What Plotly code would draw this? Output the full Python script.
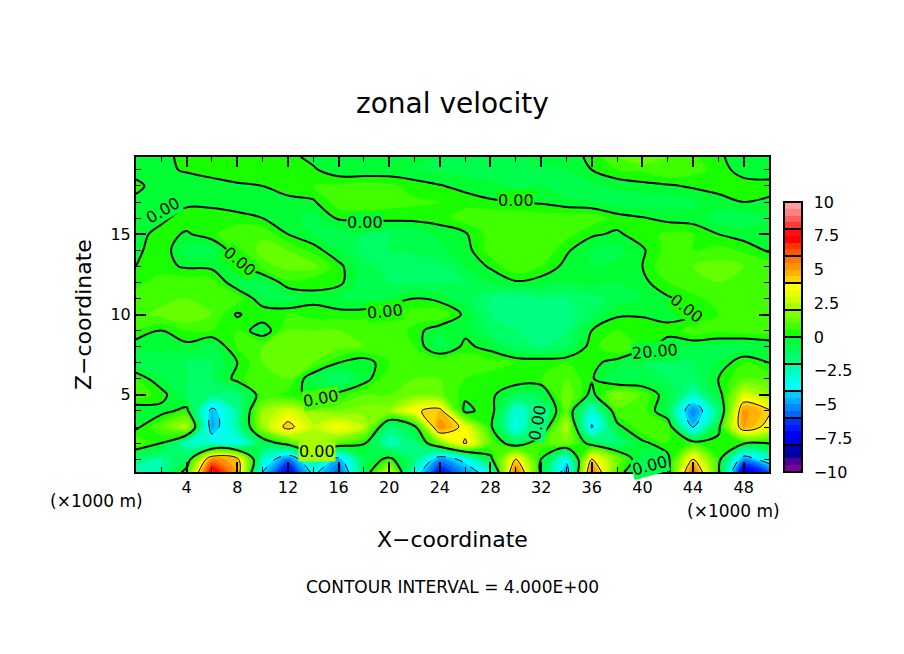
import plotly.graph_objects as go

# Coordinates (x in km, z in km)
x_km = [0, 2, 4, 6, 8, 10, 12, 14, 16, 18, 20, 22, 24, 26, 28, 30, 32, 34, 36, 38, 40, 42, 44, 46, 48, 50]
z_km = [0.2, 1, 2, 3, 4, 5, 6, 7, 8, 9, 10, 11, 12, 13, 14, 15, 16, 17, 18, 19, 19.8]

# Zonal velocity, one list per height
u_z00 = [-2.5, -2, 0.5, 8, 5, -4, -7.5, -3.5, -6, -1, 3, -3, -7, -5, -3, 6.2, -0.3, -5, 6, 0.8, -2, -0.5, 6.2, 0.3, -8, -6]
u_z01 = [-1.5, -2, -1, 5.5, 4.5, -2.5, -5.5, -2, -4.5, -0.8, 0.3, -1.5, -5, -3.5, -0.3, 4, 0, -3.5, 4, 1.5, -1, -0.3, 4, 0.5, -5, -3]
u_z02 = [1, 0, -2.5, -3, -3.5, -0.8, 0.6, 2, 1, 0.1, -2.5, -1.5, 1.5, 4.2, 1, -0.8, 0.8, 1.5, -0.5, -1.5, -0.2, 0.5, 0.5, 0.3, 0.2, 0.1]
u_z03 = [-0.2, 1, 2.5, -4.8, -2, 2, 4.5, 2.5, 3.8, 2.5, -1.5, -0.3, 5.5, 3.5, 0.2, -3.2, -1, 2.5, -4.2, -0.3, 1, 0.8, -4.2, -0.3, 5, 3.5]
u_z04 = [-0.5, -0.3, 0.3, -4.5, -2, 2, 3, 2, 1.5, 1.8, 2, 3.8, 4.5, -0.3, 0.5, -3, -1.5, 1, -3, 0.8, 0.8, -0.8, -5.5, -1.5, 5.2, 4.2]
u_z05 = [0.8, 0.3, -1, -1.5, -1.5, 0.5, 0.3, -0.2, 0.3, 1, 1, 1.5, 1.2, 0.2, 0.2, -0.8, -0.8, 1.5, -0.3, 1.8, 0.9, -0.5, -2.5, -0.5, 3, 2]
u_z06 = [0.5, -0.5, -1, -1, 0.3, 1, 1, -0.6, -1.5, -0.4, 1, 1, 1, 0.5, 0.2, 0.5, 0.5, 1, 0.1, -1, -0.8, -1, -1.2, 0, 1, 0.8]
u_z07 = [-0.8, -0.8, -1, -1, 0, 1, 1.2, 1, 0, -0.4, 0.5, 1, 1, 1, 0.8, 0.5, 0.5, 0.5, 0.2, -0.3, -1, -1, -1, -0.5, 0.5, 0]
u_z08 = [-0.4, -0.3, -0.2, -0.7, 0.6, 1, 1.2, 1.5, 1.2, 1, 1, 0.5, -0.8, 0.2, -0.3, -1.2, -1.5, -1, 0.3, 1, 0.3, -0.3, -0.5, -0.6, -0.8, -0.5]
u_z09 = [0.5, 0, 0.5, 0.5, 0.5, -0.5, 1, 1, 1, 1, 1, 0.3, -0.5, -0.2, -1.2, -1.5, -1.8, -1.5, 0, 0.5, 0.5, 0.2, 0.8, 0.6, 0.8, 0.8]
u_z10 = [0.8, 1.2, 1.5, 1, -0.1, 0.5, 0.5, 0.3, 0.3, 0.3, 0.8, 0.8, 1, -0.2, -1.5, -1.8, -2, -1.8, -1, -0.1, -0.1, -0.2, 0, 0.5, 1, 1]
u_z11 = [0.8, 0.8, 1, 1, 0.8, -0.5, -0.8, -0.2, -0.6, -0.6, -0.5, 0, -0.3, -0.8, -1.5, -2, -1.5, -1.5, -1.2, -0.8, -0.5, -0.1, 0.3, 0.8, 1, 1]
u_z12 = [0.3, 0.8, 0.8, 0.8, -0.6, -0.8, 0.4, 0.2, 0.2, -0.8, -1, -1, -1, -1, -0.5, -0.1, -0.3, -0.5, -0.3, -0.5, -0.2, 0.5, 1, 1, 0.8, 0.8]
u_z13 = [0, 0.2, -0.1, -0.2, -0.2, 0.8, 1.2, 1.2, 0.2, -0.8, -1.2, -1.5, -1.2, -0.5, 0.1, 1, 0.5, -0.2, -0.5, -0.3, 0, 1, 1, 1.2, 1, 0.8]
u_z14 = [-0.2, 0.5, -0.8, -0.8, 0.5, 1.2, 1, 0.3, -0.5, -1.2, -1, -0.8, -0.6, -0.3, 0.8, 1, 1, 0.1, -0.5, -0.7, -0.1, 0.7, 0.5, 0.7, 0.4, -0.1]
u_z15 = [-0.3, 0.3, -0.1, 0.4, 0.8, 0.9, 0, -0.5, -0.8, -1, -1, -0.8, -0.4, -0.1, 0.7, 0.8, 0.8, 0.7, 0.1, -0.1, 0.3, 0.6, 0.5, 0, -0.3, -0.4]
u_z16 = [-0.4, -0.2, 0.4, 0.5, 0.3, 0, -0.3, -0.7, 0.1, 0.1, 0.2, 0.2, 0.3, 0.8, 1, 1, 0.8, 0.9, 0.8, 0.3, 0.05, -0.2, -0.3, -0.7, -0.8, -0.5]
u_z17 = [-0.2, -0.1, -0.2, -0.3, -0.5, -0.3, -0.2, -0.1, 0.8, 1, 0.7, 0.6, 0.5, 0.3, 0.1, 0, -0.1, -0.4, -0.5, -0.8, -0.8, -0.8, -0.6, -0.3, 0, -0.1]
u_z18 = [0.2, -0.4, -0.5, -0.3, -0.1, 0, 0.3, 0.5, 0.6, 0.8, 0.6, 0.3, 0.05, -0.2, -0.4, -0.6, -0.5, -0.7, -0.6, -0.4, -0.2, -0.1, 0.1, 0.3, 0.3, 0.2]
u_z19 = [-0.3, -0.2, 0.1, 0.3, 0.4, 0.4, 0.3, 0.1, -0.4, -0.5, -0.4, -0.5, -0.6, -0.7, -0.7, -0.7, -0.6, -0.5, 0, 0.5, 0.6, 1, 0.7, 0.3, -0.3, -0.3]
u_z20 = [-0.3, -0.2, 0.2, 0.3, 0.3, 0.3, 0.2, -0.2, -0.4, -0.4, -0.4, -0.4, -0.5, -0.5, -0.5, -0.5, -0.4, -0.2, 0.1, 1, 1.5, 1, 0.6, 0.1, -0.3, -0.3]

# Colour of each 0.5 wide band, from -10 up to 10
band_colors = [
    "#7a0099", "#4b0096", "#00009e", "#0000b3",
    "#0000e6", "#0000ff", "#0019ff", "#0033ff",
    "#0066ff", "#0088ff", "#00aaff", "#00ccff",
    "#00ffff", "#00ffe6", "#00ffcc", "#00ffb3",
    "#00ff80", "#00ff66", "#00ff4d", "#00ff33",
    "#1aff00", "#40ff00", "#66ff00", "#80ff00",
    "#a6ff00", "#ccff00", "#e6ff00", "#ffff00",
    "#ffd100", "#ffb300", "#ff9400", "#ff7700",
    "#ff5500", "#ff3300", "#ff0000", "#ff0f0f",
    "#ff3838", "#ff5c5c", "#ff8080", "#ff9c9c",
]
x_ticks = [4, 8, 12, 16, 20, 24, 28, 32, 36, 40, 44, 48]
z_ticks = [5, 10, 15]
cbar_ticks = [-10, -7.5, -5, -2.5, 0, 2.5, 5, 7.5, 10]
cbar_labels = ["\u221210", "\u22127.5", "\u22125", "\u22122.5", "0", "2.5", "5", "7.5", "10"]

# Contour labels
label_text = ["0.00", "0.00", "0.00", "0.00", "0.00", "0.00", "0.00", "0.00", "0.00", "0.00", "20.00"]
label_x = [2.1, 8.2, 18.1, 30, 19.7, 43.5, 14.6, 14.3, 31.7, 40.6, 41]
label_z = [16.5, 13.3, 15.7, 17.1, 10.2, 10.4, 4.8, 1.5, 3.3, 0.6, 7.7]
label_angle = [-30, 40, 0, 0, -5, 38, -10, 0, -80, -15, -5]
label_bg = ["#00ff33", "#1aff00", "#00ff33", "#1aff00", "#1aff00", "#1aff00", "#40ff00", "#a6ff00", "#00ff80", "#00ff4d", "#00ff33"]

u_rows = [u_z00, u_z01, u_z02, u_z03, u_z04, u_z05, u_z06, u_z07, u_z08, u_z09, u_z10,
          u_z11, u_z12, u_z13, u_z14, u_z15, u_z16, u_z17, u_z18, u_z19, u_z20]

FONT = "DejaVu Sans"

# Stepped colour scale, two stops per band
n = len(band_colors)
colorscale = []
for i, c in enumerate(band_colors):
    colorscale.append([i / n, c])
    colorscale.append([(i + 1) / n, c])

fig = go.Figure()

# Lowest trace only supplies the colourbar with its lines every 2 units, the fill hides the rest
fig.add_trace(go.Contour(
    x=x_km, y=z_km, z=u_rows, zmin=-10, zmax=10, colorscale=colorscale,
    contours=dict(start=-10, end=10, size=2, coloring="heatmap"),
    line=dict(color="black", width=2),
    colorbar=dict(
        x=(784 - 136) / 633, xanchor="left", xpad=0, ypad=0,
        y=0, yanchor="bottom", len=270 / 315, lenmode="fraction",
        thickness=18, thicknessmode="pixels",
        outlinecolor="black", outlinewidth=2,
        tickmode="array", tickvals=cbar_ticks, ticktext=cbar_labels,
        ticks="outside", ticklen=8, tickcolor="rgba(0,0,0,0)",
        tickfont=dict(family=FONT, size=16, color="black"),
    ),
))

# Filled bands
fig.add_trace(go.Contour(
    x=x_km, y=z_km, z=u_rows, zmin=-10, zmax=10, colorscale=colorscale, showscale=False,
    contours=dict(start=-10, end=10, size=0.5, coloring="fill"),
    line=dict(width=0),
))

# Contour lines: thick zero line, thin positive, dashed negative
fig.add_trace(go.Contour(
    x=x_km, y=z_km, z=u_rows, showscale=False,
    contours=dict(start=0, end=0, size=1, coloring="none"),
    line=dict(color="black", width=2),
))
fig.add_trace(go.Contour(
    x=x_km, y=z_km, z=u_rows, showscale=False,
    contours=dict(start=4, end=8, size=4, coloring="none"),
    line=dict(color="black", width=1),
))
fig.add_trace(go.Contour(
    x=x_km, y=z_km, z=u_rows, showscale=False,
    contours=dict(start=-8, end=-4, size=4, coloring="none"),
    line=dict(color="black", width=1, dash="dash"),
))

for t, lx, lz, a, bg in zip(label_text, label_x, label_z, label_angle, label_bg):
    fig.add_annotation(x=lx, y=lz, text=t, textangle=a, showarrow=False, bgcolor=bg,
                       borderpad=0, font=dict(family=FONT, size=16, color="black"))


def page_text(text, px, py, size, angle=0):
    # text placed by page pixel
    fig.add_annotation(xref="paper", yref="paper", x=(px - 136) / 633, y=(472 - py) / 315,
                       xanchor="center", yanchor="middle",
                       text=text, showarrow=False, textangle=angle,
                       font=dict(family=FONT, size=size, color="black"))


page_text("zonal velocity", 452, 104, 28)
page_text("X\u2212coordinate", 452, 539, 22)
page_text("Z\u2212coordinate", 83, 315, 22, angle=-90)
page_text("(\u00d71000 m)", 96, 501, 17)
page_text("(\u00d71000 m)", 733, 511, 17)
page_text("CONTOUR INTERVAL = 4.000E+00", 452, 587, 17)

fig.update_xaxes(
    range=[0, 50], tickmode="array", tickvals=x_ticks,
    ticks="inside", ticklen=10, tickwidth=2, tickcolor="black",
    minor=dict(tick0=0, dtick=2, ticks="inside", ticklen=5, tickcolor="black", tickwidth=1),
    showgrid=False, zeroline=False, showline=True, linecolor="black", linewidth=2, mirror="ticks",
    tickfont=dict(family=FONT, size=16, color="black"),
)
fig.update_yaxes(
    range=[0.2, 19.8], tickmode="array", tickvals=z_ticks,
    ticks="inside", ticklen=10, tickwidth=2, tickcolor="black",
    minor=dict(tick0=0, dtick=1, ticks="inside", ticklen=5, tickcolor="black", tickwidth=1),
    showgrid=False, zeroline=False, showline=True, linecolor="black", linewidth=2, mirror="ticks",
    tickfont=dict(family=FONT, size=16, color="black"),
)
# the page has an 8 px body margin, so everything sits 8 px in from the window corner
fig.update_layout(
    width=896, height=646,
    margin=dict(l=128, r=135, t=149, b=182),
    paper_bgcolor="white", plot_bgcolor="white",
    showlegend=False,
)
fig.write_html("out.html")
